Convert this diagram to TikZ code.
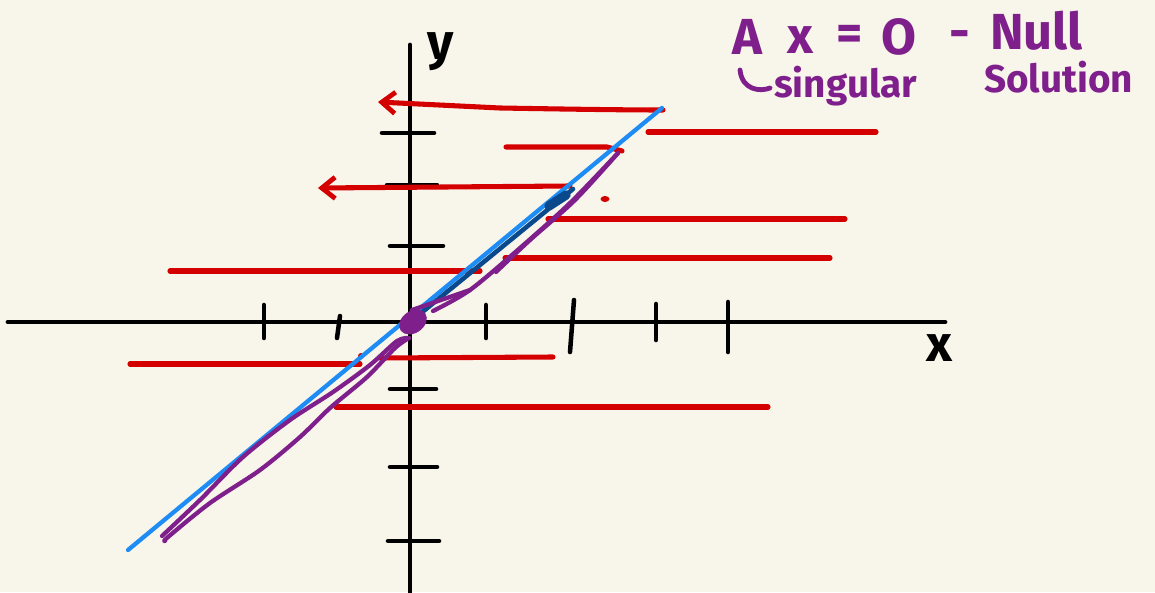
\documentclass[tikz,border=0pt]{standalone}
\usepackage{fontspec}
\setmainfont{Fira Sans}
\usetikzlibrary{arrows.meta}
\definecolor{bg}{HTML}{F8F5EA}
\definecolor{redink}{HTML}{D40000}
\definecolor{blueink}{HTML}{1E8CF5}
\definecolor{dblue}{HTML}{0A4A8C}
\definecolor{purp}{HTML}{7E1F8C}
\tikzset{
  axis/.style={black,line width=3.6pt,line cap=round},
  tick/.style={black,line width=3.4pt,line cap=round},
  redln/.style={redink,line width=3.8pt,line cap=round},
  redarr/.style={redink,line width=3.8pt,line cap=round,-{Straight Barb[length=10pt,width=16pt,line width=3.6pt]}},
  purpln/.style={purp,line width=3.2pt,line cap=round,line join=round},
  txt/.style={purp,font=\fontsize{38}{40}\selectfont\bfseries,inner sep=0pt},
  txtb/.style={purp,font=\fontsize{29}{31}\selectfont\bfseries,inner sep=0pt},
}
\begin{document}
\begin{tikzpicture}[x=0.75pt,y=-0.75pt]
\fill[bg] (0,0) rectangle (1155,592);
\useasboundingbox (0,0) rectangle (1155,592);
% axes
\coordinate (xl) at (8,322); \coordinate (xr) at (945,322);
\coordinate (yt) at (410,45); \coordinate (yb) at (410,592);
\draw[axis] (xl) -- (xr);
\draw[axis] (yt) -- (yb);
% x ticks
\draw[tick] (264,305) -- (264,338);
\draw[tick] (340,316) -- (337,338);
\draw[tick] (486,305) -- (486,338);
\draw[tick] (574,300) -- (570,352);
\draw[tick] (656,304) -- (656,340);
\draw[tick] (728,302) -- (728,352);
% y ticks
\draw[tick] (382,133) -- (434,133);
\draw[tick] (387,185) -- (437,185);
\draw[tick] (390,246) -- (443,246);
\draw[tick] (390,389) -- (436,389);
\draw[tick] (390,467) -- (437,467);
\draw[tick] (388,541) -- (439,541);
% axis labels
\node[black,font=\fontsize{38}{40}\selectfont\bfseries,inner sep=0pt] (ylab) at (441,52) {y};
\node[black,font=\fontsize{38}{40}\selectfont\bfseries,inner sep=0pt] (xlab) at (939,348) {x};
% red horizontal lines
\draw[redln] (648,132) -- (876,132);
\draw[redln] (506,147) -- (607,147) -- (622,151);
\draw[redln] (548,219) -- (845,219);
\draw[redln] (505,258) -- (830,258);
\draw[redln] (170,271) -- (480,271);
\draw[redln] (130,364) -- (360,364);
\draw[redln] (380,358) -- (553,357);
\draw[redln] (336,407) -- (768,407);
\fill[redink] (605,199) ellipse (4.5 and 3);
\fill[redink] (361,356) circle (3);
% red arrows
\coordinate (a1s) at (663,110); \coordinate (a1e) at (378,102);
\draw[redarr] (a1s) .. controls (620,110) and (560,109) .. (500,108) -- (a1e);
\coordinate (a2s) at (570,186); \coordinate (a2e) at (318,188);
\draw[redarr] (a2s) -- (a2e);
% blue line
\coordinate (b1) at (128,550); \coordinate (b2) at (662,108);
\draw[blueink,line width=3.2pt,line cap=round] (b1) -- (b2);
% dark blue segment
\draw[dblue,line width=3.4pt,line cap=round] (420,314) -- (573,189);
\draw[dblue,line width=7pt,line cap=round] (549,206) -- (566,195);
% purple strokes
\draw[purpln] plot[smooth] coordinates {(162,536) (200,500) (243,457) (290,420) (333,392) (370,365) (397,341) (409,338)};
\draw[purpln] plot[smooth] coordinates {(409,338) (395,348) (367,377) (330,408) (300,437) (260,470) (210,503) (168,537) (165,541)};
\draw[purpln] plot[smooth] coordinates {(433,311) (470,290) (520,248) (570,203) (618,153)};
\draw[purpln] plot[smooth] coordinates {(618,153) (575,200) (530,240) (496,272)};
\draw[purpln] (412,310) -- (470,290);
\fill[purp,rotate around={35:(413,322)}] (413,322) ellipse (15 and 11);
% text
\node[txt] (tA) at (747,37) {A};
\node[txt] (tx) at (800,40) {x};
\node[txt] (teq) at (850,38) {=};
\node[txt] (tO) at (899,37) {O};
\node[txt] (tdash) at (960,40) {-};
\node[txt,anchor=west] (tnull) at (990,31) {Null};
\draw[purp,line width=3.6pt,line cap=round] (740,70) .. controls (742,90) and (760,92) .. (770,88);
\node[txtb,anchor=west] (tsing) at (774,86) {singular};
\node[txtb,anchor=west] (tsol) at (984,77) {Solution};
\end{tikzpicture}
\end{document}
